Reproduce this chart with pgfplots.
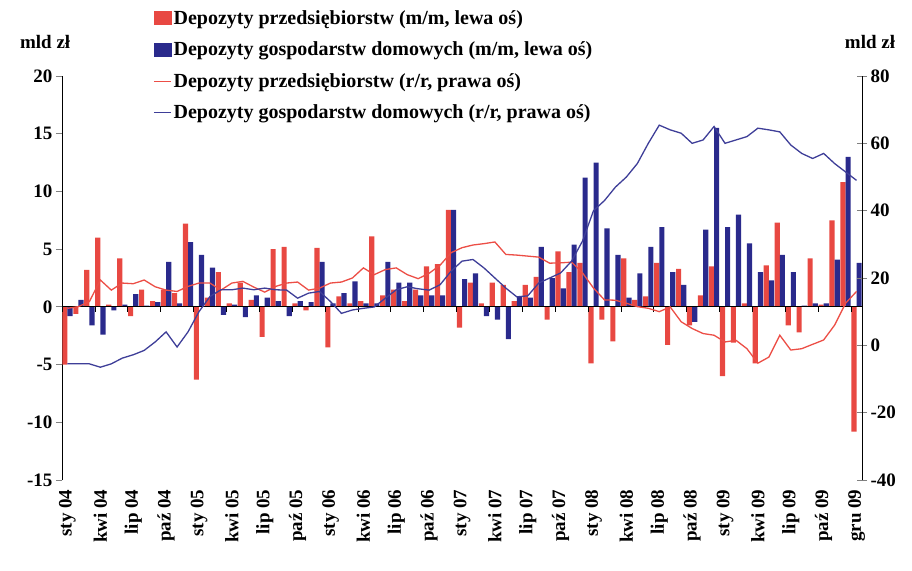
\documentclass[border=0pt]{standalone}
\usepackage{pgfplots}
\pgfplotsset{compat=1.18}
\usepackage{fontspec}
\setmainfont{Liberation Serif}
\definecolor{barred}{RGB}{232,72,66}
\definecolor{barblue}{RGB}{42,42,140}
\definecolor{linered}{RGB}{236,78,70}
\definecolor{lineblue}{RGB}{62,62,152}
\newcommand{\lblfont}{\fontsize{19}{21}\selectfont\bfseries}
\newcommand{\legfont}{\fontsize{20}{22}\selectfont\bfseries}
\begin{document}
\begin{tikzpicture}
\path[use as bounding box] (-62pt,-90pt) rectangle (850pt,480pt);
\begin{axis}[
  scale only axis, width=800pt, height=404pt,
  at={(0pt,0pt)}, anchor=south west,
  xmin=-0.5, xmax=72.5, ymin=-15, ymax=20,
  ybar=0pt, bar width=0.47,
  axis y line*=left, axis x line*=bottom,
  x axis line style={draw=none},
  xtick={0,3,...,72},
  xticklabels={sty 04,kwi 04,lip 04,paź 04,sty 05,kwi 05,lip 05,paź 05,sty 06,kwi 06,lip 06,paź 06,sty 07,kwi 07,lip 07,paź 07,sty 08,kwi 08,lip 08,paź 08,sty 09,kwi 09,lip 09,paź 09,gru 09},
  xtick style={draw=none},
  xticklabel style={rotate=90, anchor=east, font=\lblfont},
  ytick={-15,-10,...,20},
  yticklabel style={font=\lblfont, /pgf/number format/assume math mode=true},
  y axis line style={line width=0.8pt},
  ytick style={line width=0.8pt},
  tick align=outside, major tick length=6pt,
  clip=false,
]
\addplot[fill=barred, draw=none] coordinates {
(0,-5.0) (1,-0.6) (2,3.2) (3,6.0) (4,0.2) (5,4.2) (6,-0.8) (7,1.5) (8,0.5) (9,1.5)
(10,1.2) (11,7.2) (12,-6.3) (13,0.8) (14,3.0) (15,0.3) (16,2.1) (17,0.6) (18,-2.6) (19,5.0)
(20,5.2) (21,0.3) (22,-0.3) (23,5.1) (24,-3.5) (25,0.9) (26,0.3) (27,0.5) (28,6.1) (29,1.0)
(30,1.5) (31,0.5) (32,1.5) (33,3.5) (34,3.7) (35,8.4) (36,-1.8) (37,2.1) (38,0.3) (39,2.1)
(40,1.9) (41,0.5) (42,1.9) (43,2.6) (44,-1.1) (45,4.8) (46,3.0) (47,3.8) (48,-4.9) (49,-1.1)
(50,-3.0) (51,4.2) (52,0.6) (53,0.9) (54,3.8) (55,-3.3) (56,3.3) (57,-1.6) (58,1.0) (59,3.5)
(60,-6.0) (61,-3.1) (62,0.3) (63,-4.9) (64,3.6) (65,7.3) (66,-1.6) (67,-2.2) (68,4.2) (69,0.2)
(70,7.5) (71,10.8) (72,-10.8)
};
\addplot[fill=barblue, draw=none] coordinates {
(0,-0.8) (1,0.6) (2,-1.6) (3,-2.4) (4,-0.3) (5,0.2) (6,1.1) (7,0.1) (8,0.4) (9,3.9)
(10,0.3) (11,5.6) (12,4.5) (13,3.4) (14,-0.7) (15,0.2) (16,-0.9) (17,1.0) (18,0.8) (19,0.5)
(20,-0.8) (21,0.5) (22,0.4) (23,3.9) (24,0.3) (25,1.2) (26,2.2) (27,0.3) (28,0.3) (29,3.9)
(30,2.1) (31,2.1) (32,1.0) (33,1.0) (34,1.0) (35,8.4) (36,2.4) (37,2.9) (38,-0.8) (39,-1.1)
(40,-2.8) (41,0.9) (42,0.8) (43,5.2) (44,2.5) (45,1.6) (46,5.4) (47,11.2) (48,12.5) (49,6.8)
(50,4.5) (51,0.8) (52,2.9) (53,5.2) (54,6.9) (55,3.0) (56,1.9) (57,-1.3) (58,6.7) (59,15.5)
(60,6.9) (61,8.0) (62,5.5) (63,3.0) (64,2.3) (65,4.5) (66,3.0) (67,0.1) (68,0.3) (69,0.3)
(70,4.1) (71,13.0) (72,3.8)
};
\draw[line width=1pt] (axis cs:-0.5,0) -- (axis cs:72.5,0);
\pgfplotsinvokeforeach{0,...,24}{\draw[line width=0.6pt] (axis cs:{3*#1-0.5},0) -- ++(0pt,-5pt);}
\node[font=\lblfont] at (axis description cs:-0.021,1.084) {mld zł};
\node[font=\lblfont] at (axis description cs:1.01,1.084) {mld zł};
\end{axis}
\begin{axis}[
  scale only axis, width=800pt, height=404pt,
  at={(0pt,0pt)}, anchor=south west,
  xmin=-0.5, xmax=72.5, ymin=-40, ymax=80,
  ytick={-40,-20,...,80},
  axis y line*=right, axis x line=none,
  y axis line style={line width=0.8pt},
  ytick style={line width=0.8pt},
  tick align=center, major tick length=10pt,
  yticklabel style={font=\lblfont, /pgf/number format/assume math mode=true},
  legend style={at={(axis description cs:0.11,1.172)}, anchor=north west, draw=none, fill=none,
    font=\legfont, row sep=12pt, legend cell align=left},
  legend cell align=left,
]
\addlegendimage{legend image code/.code={\fill[barred] (0pt,-6pt) rectangle (17pt,7pt);}}
\addlegendimage{legend image code/.code={\fill[barblue] (0pt,-6pt) rectangle (17pt,7pt);}}
\addplot[linered, line width=1.3pt, mark=none] coordinates {
(0,11) (1,11.5) (2,13) (3,19.4) (4,16.4) (5,18.5) (6,18.3) (7,19.4) (8,17.4) (9,16.4)
(10,16) (11,17.5) (12,18.5) (13,18.5) (14,16.4) (15,18.5) (16,19) (17,17.3) (18,15.8) (19,17.5)
(20,18.5) (21,18.8) (22,16.4) (23,17) (24,18.5) (25,18.8) (26,20) (27,23) (28,21) (29,22.5)
(30,23) (31,21) (32,19.8) (33,21.4) (34,23.8) (35,27.5) (36,29) (37,29.8) (38,30.2) (39,30.7)
(40,27) (41,26.8) (42,26.5) (43,26.2) (44,24.4) (45,24.5) (46,24.7) (47,21.5) (48,17) (49,13.5)
(50,13.4) (51,12.5) (52,11.5) (53,11) (54,10) (55,11.4) (56,7) (57,5) (58,3.5) (59,3)
(60,1) (61,1.5) (62,-1) (63,-5.3) (64,-3.5) (65,3) (66,-1.4) (67,-1) (68,0.3) (69,1.6)
(70,6) (71,12.5) (72,16)
};
\addplot[lineblue, line width=1.3pt, mark=none] coordinates {
(0,-5.5) (1,-5.5) (2,-5.5) (3,-6.5) (4,-5.5) (5,-3.8) (6,-2.8) (7,-1.5) (8,1.0) (9,4.0)
(10,-0.5) (11,4.0) (12,10.0) (13,14.5) (14,16.5) (15,16.5) (16,17) (17,16.5) (18,17) (19,16.5)
(20,16.4) (21,14) (22,15.5) (23,16) (24,13) (25,9.5) (26,10.5) (27,11) (28,11.4) (29,14)
(30,16.5) (31,17.4) (32,16.8) (33,16.4) (34,18) (35,22) (36,25) (37,25.5) (38,23) (39,20)
(40,17) (41,14.4) (42,14.7) (43,18.5) (44,20) (45,21.5) (46,25) (47,31) (48,40) (49,43)
(50,47) (51,50) (52,54) (53,60) (54,65.4) (55,64) (56,63) (57,60) (58,61) (59,65)
(60,60) (61,61) (62,62) (63,64.5) (64,64) (65,63.4) (66,59.5) (67,57) (68,55.5) (69,57)
(70,54) (71,51.5) (72,49)
};
\legend{Depozyty przedsiębiorstw (m/m{,} lewa oś),Depozyty gospodarstw domowych (m/m{,} lewa oś),Depozyty przedsiębiorstw (r/r{,} prawa oś),Depozyty gospodarstw domowych (r/r{,} prawa oś)}
\end{axis}
\end{tikzpicture}
\end{document}
